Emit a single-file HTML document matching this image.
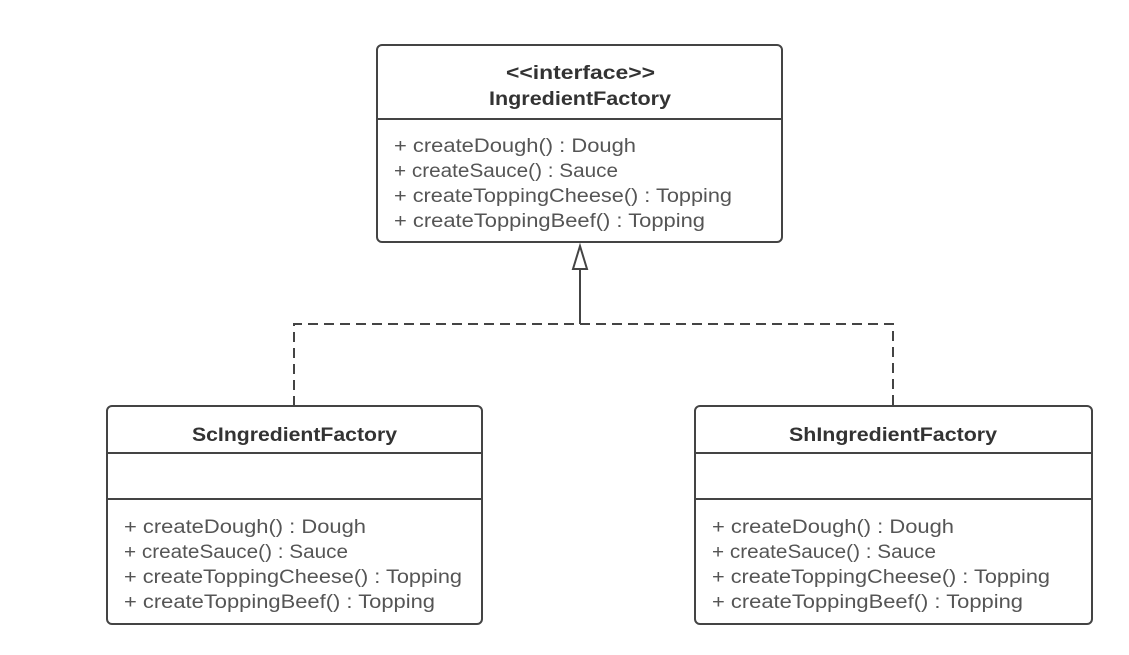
<!DOCTYPE html>
<html><head><meta charset="utf-8"><style>html,body{margin:0;padding:0;background:#fff}</style></head>
<body>
<svg width="1129" height="650" viewBox="0 0 1129 650" xmlns="http://www.w3.org/2000/svg" font-family="Liberation Sans, DejaVu Sans, sans-serif">
<g fill="#fff" stroke="#444" stroke-width="2">
<rect x="377" y="45" width="405" height="197" rx="5"/>
<rect x="107" y="406" width="375" height="218" rx="5"/>
<rect x="695" y="406" width="397" height="218" rx="5"/>
</g>
<g stroke="#444" stroke-width="2">
<line x1="377" y1="119" x2="782" y2="119"/>
<line x1="107" y1="453" x2="482" y2="453"/>
<line x1="107" y1="499" x2="482" y2="499"/>
<line x1="695" y1="453" x2="1092" y2="453"/>
<line x1="695" y1="499" x2="1092" y2="499"/>
<line x1="580" y1="268" x2="580" y2="324"/>
</g>
<g stroke="#444" stroke-width="2" fill="none" stroke-dasharray="10,6">
<polyline points="294,406 294,324 893,324 893,406"/>
</g>
<polygon points="580,246 573,269 587,269" fill="#fff" stroke="#444" stroke-width="2"/>
<g fill="#333" font-weight="bold" font-size="19" lengthAdjust="spacingAndGlyphs">
<text x="506" y="79" textLength="149" lengthAdjust="spacingAndGlyphs">&lt;&lt;interface&gt;&gt;</text>
<text x="489" y="105" textLength="182" lengthAdjust="spacingAndGlyphs">IngredientFactory</text>
<text x="192" y="441" textLength="205" lengthAdjust="spacingAndGlyphs">ScIngredientFactory</text>
<text x="789" y="441" textLength="208" lengthAdjust="spacingAndGlyphs">ShIngredientFactory</text>
</g>
<g fill="#555" font-size="19">
<text x="394" y="152" textLength="242" lengthAdjust="spacingAndGlyphs">+ createDough() : Dough</text>
<text x="394" y="177" textLength="224" lengthAdjust="spacingAndGlyphs">+ createSauce() : Sauce</text>
<text x="394" y="202" textLength="338" lengthAdjust="spacingAndGlyphs">+ createToppingCheese() : Topping</text>
<text x="394" y="227" textLength="311" lengthAdjust="spacingAndGlyphs">+ createToppingBeef() : Topping</text>
<text x="124" y="533" textLength="242" lengthAdjust="spacingAndGlyphs">+ createDough() : Dough</text>
<text x="124" y="558" textLength="224" lengthAdjust="spacingAndGlyphs">+ createSauce() : Sauce</text>
<text x="124" y="583" textLength="338" lengthAdjust="spacingAndGlyphs">+ createToppingCheese() : Topping</text>
<text x="124" y="608" textLength="311" lengthAdjust="spacingAndGlyphs">+ createToppingBeef() : Topping</text>
<text x="712" y="533" textLength="242" lengthAdjust="spacingAndGlyphs">+ createDough() : Dough</text>
<text x="712" y="558" textLength="224" lengthAdjust="spacingAndGlyphs">+ createSauce() : Sauce</text>
<text x="712" y="583" textLength="338" lengthAdjust="spacingAndGlyphs">+ createToppingCheese() : Topping</text>
<text x="712" y="608" textLength="311" lengthAdjust="spacingAndGlyphs">+ createToppingBeef() : Topping</text>
</g>
</svg>
</body></html>
